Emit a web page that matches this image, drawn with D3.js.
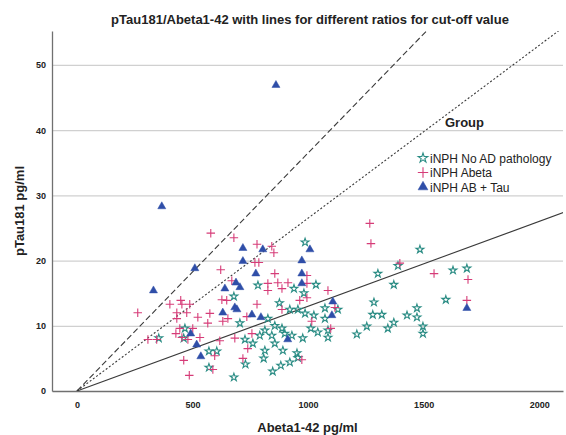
<!DOCTYPE html>
<html>
<head>
<meta charset="utf-8">
<script src="https://cdn.jsdelivr.net/npm/d3@7"></script>
<style>
body { margin: 0; background: #fff; }
svg { display: block; font-family: "Liberation Sans", Arial, sans-serif; }
</style>
</head>
<body>
<div id="vis"></div>
<script>
const margin = { top: 31, right: 3, bottom: 44, left: 52 };
const width = 566 - margin.left - margin.right;
const height = 435 - margin.top - margin.bottom;

// Abeta1-42 (pg/ml), pTau181 (pg/ml)
const noADPoints = [
    [467, 9.6], [462, 8.1], [354, 8.1], [571, 3.6], [679, 2.1], [729, 4.1], [847, 3.0], [882, 3.9],
    [921, 4.4], [571, 6.1], [605, 6.1], [956, 5.1], [987, 22.8], [783, 16.2], [679, 14.5], [939, 15.7],
    [982, 15.0], [876, 13.5], [921, 12.5], [956, 12.5], [987, 11.9], [826, 11.1], [856, 10.0], [887, 9.6],
    [813, 9.3], [791, 8.5], [843, 8.5], [899, 8.8], [930, 8.5], [977, 8.1], [705, 10.4], [727, 7.9],
    [761, 7.3], [856, 7.3], [813, 6.2], [891, 6.2], [952, 5.8], [808, 5.0], [1484, 21.7], [1389, 19.2],
    [1302, 18.0], [1627, 18.5], [1371, 16.3], [1034, 16.3], [1285, 13.6], [1596, 14.0], [1280, 11.7],
    [1319, 11.7], [1428, 11.6], [1471, 12.7], [1471, 11.3], [1371, 10.5], [1345, 9.6], [1254, 9.9],
    [1211, 8.7], [1497, 9.9], [1497, 8.8], [1129, 12.5], [1073, 12.7], [1073, 11.1], [1025, 11.6],
    [1012, 9.6], [1042, 9.0], [1086, 8.2], [1086, 9.3], [1687, 18.8]
];

const abetaPoints = [
    [263, 12.0], [402, 13.3], [454, 13.3], [449, 13.9], [488, 13.3], [432, 12.0], [475, 12.0], [432, 11.1],
    [445, 9.6], [428, 8.8], [454, 8.2], [307, 7.9], [345, 7.9], [462, 4.7], [486, 2.4], [579, 24.2],
    [679, 23.5], [779, 22.5], [843, 22.2], [852, 21.2], [770, 19.7], [787, 19.7], [622, 18.6], [670, 16.9],
    [856, 18.0], [826, 16.5], [869, 16.6], [913, 16.6], [826, 15.4], [887, 15.7], [627, 14.0], [648, 13.9],
    [779, 13.3], [964, 13.9], [887, 12.5], [523, 11.3], [575, 11.9], [566, 10.4], [631, 10.7], [653, 11.1],
    [735, 11.4], [501, 9.6], [532, 8.2], [480, 7.9], [757, 8.8], [683, 8.1], [618, 7.7], [739, 6.5],
    [596, 5.4], [718, 5.0], [588, 3.3], [973, 4.8], [1267, 25.7], [1272, 22.6], [1397, 19.6], [1545, 18.0],
    [1086, 15.4], [995, 17.7], [995, 16.5], [995, 14.3], [1116, 12.8], [1016, 10.7], [1098, 9.6],
    [1692, 17.1], [1687, 13.9]
];

const abTauPoints = [
    [861, 46.9], [367, 28.3], [331, 15.4], [510, 18.8], [718, 21.9], [804, 21.7], [718, 19.9], [774, 18.0],
    [973, 20.0], [973, 18.0], [973, 16.5], [1008, 21.7], [688, 16.6], [705, 15.9], [640, 15.7], [683, 12.8],
    [631, 12.0], [692, 12.5], [757, 11.7], [796, 11.3], [492, 8.8], [518, 7.1], [536, 5.3], [912, 7.9],
    [1107, 13.7], [1103, 11.6], [1687, 12.7]
];

const groupNames = ["iNPH No AD pathology", "iNPH Abeta", "iNPH AB + Tau"];
const cutoffRatios = [0.0365, 0.0265, 0.013];
const xTicks = [0, 500, 1000, 1500, 2000];
const yTicks = [0, 10, 20, 30, 40, 50];

const groupColors = ["#2a8c84", "#d63c78", "#2f4ea8"];
const lineDash = ["6,3", "2,2", null];

// custom thin plus, SPSS style
const plusSymbol = {
    draw(ctx, size) {
        const r = Math.sqrt(size) / 2;
        ctx.moveTo(-r, 0); ctx.lineTo(r, 0);
        ctx.moveTo(0, -r); ctx.lineTo(0, r);
    }
};

const xScale = d3.scaleLinear().domain([-108, 2103]).range([0, width]);
const yScale = d3.scaleLinear().domain([0, 55.2]).range([height, 0]);

const svg = d3.select("#vis")
    .append("svg")
    .attr("width", width + margin.left + margin.right)
    .attr("height", height + margin.top + margin.bottom);

const g = svg.append("g")
    .attr("transform", `translate(${margin.left},${margin.top})`);

svg.append("defs").append("clipPath")
    .attr("id", "plot-clip")
    .append("rect")
    .attr("width", width)
    .attr("height", height);

// gridlines
g.append("g")
    .attr("class", "grid")
    .call(d3.axisLeft(yScale).tickValues(yTicks.slice(1)).tickSize(-width).tickFormat(""))
    .call(s => s.select(".domain").remove())
    .selectAll("line")
    .attr("stroke", "#d0d0d0")
    .attr("stroke-width", 1.2);

// axes
const xAxisG = g.append("g")
    .attr("transform", `translate(0,${height})`)
    .call(d3.axisBottom(xScale).tickValues(xTicks).tickFormat(d3.format("d")).tickSize(0).tickPadding(11));

const yAxisG = g.append("g")
    .call(d3.axisLeft(yScale).tickValues(yTicks).tickFormat(d3.format("d")).tickSize(0).tickPadding(6));

[xAxisG, yAxisG].forEach(a => {
    a.select(".domain").attr("stroke", "#707070").attr("stroke-width", 1.3);
    a.selectAll("text")
        .style("font-size", "9px")
        .style("font-weight", "bold")
        .style("fill", "#222")
        .style("font-family", "\"Liberation Sans\", Arial, sans-serif");
});

// cut-off ratio lines
const refLine = d3.line()
    .x(d => xScale(d[0]))
    .y(d => yScale(d[1]));

const linesG = g.append("g").attr("clip-path", "url(#plot-clip)");
cutoffRatios.forEach((ratio, i) => {
    linesG.append("path")
        .datum([[0, 0], [2200, 2200 * ratio]])
        .attr("d", refLine)
        .attr("fill", "none")
        .attr("stroke", "#3a3a3a")
        .attr("stroke-width", 1.1)
        .attr("stroke-dasharray", lineDash[i]);
});

// points
const groups = [
    { data: noADPoints, type: d3.symbolStar, size: 19, filled: false },
    { data: abetaPoints, type: plusSymbol, size: 72, filled: false },
    { data: abTauPoints, type: d3.symbolTriangle, size: 28, filled: true }
];

groups.forEach((grp, i) => {
    g.append("g")
        .selectAll("path")
        .data(grp.data)
        .enter()
        .append("path")
        .attr("transform", d => `translate(${xScale(d[0])},${yScale(d[1])})`)
        .attr("d", d3.symbol().type(grp.type).size(grp.size))
        .attr("fill", grp.filled ? groupColors[i] : "none")
        .attr("stroke", groupColors[i])
        .attr("stroke-width", grp.filled ? 0.5 : 1.1);
});

// legend
const legend = svg.append("g").attr("transform", "translate(423,0)");
legend.append("text")
    .attr("x", 22)
    .attr("y", 127)
    .style("font-size", "13px")
    .style("font-weight", "bold")
    .style("fill", "#222")
    .text("Group");

groupNames.forEach((name, i) => {
    const row = legend.append("g")
        .attr("transform", `translate(0,${158 + i * 14.5})`);
    row.append("path")
        .attr("d", d3.symbol().type(groups[i].type).size(groups[i].size * 1.5))
        .attr("fill", groups[i].filled ? groupColors[i] : "none")
        .attr("stroke", groupColors[i])
        .attr("stroke-width", groups[i].filled ? 0.5 : 1.1);
    row.append("text")
        .attr("x", 7)
        .attr("y", 4.5)
        .style("font-size", "12px")
        .style("fill", "#222")
        .text(name);
});

// titles
svg.append("text")
    .attr("x", 310)
    .attr("y", 24)
    .attr("text-anchor", "middle")
    .style("font-size", "13px")
    .style("font-weight", "bold")
    .style("fill", "#222")
    .text("pTau181/Abeta1-42 with lines for different ratios for cut-off value");

svg.append("text")
    .attr("x", margin.left + width / 2)
    .attr("y", 432)
    .attr("text-anchor", "middle")
    .style("font-size", "13px")
    .style("font-weight", "bold")
    .style("fill", "#222")
    .text("Abeta1-42 pg/ml");

svg.append("text")
    .attr("transform", "rotate(-90)")
    .attr("x", -(margin.top + height / 2))
    .attr("y", 24)
    .attr("text-anchor", "middle")
    .style("font-size", "13px")
    .style("font-weight", "bold")
    .style("fill", "#222")
    .text("pTau181 pg/ml");
</script>
</body>
</html>
